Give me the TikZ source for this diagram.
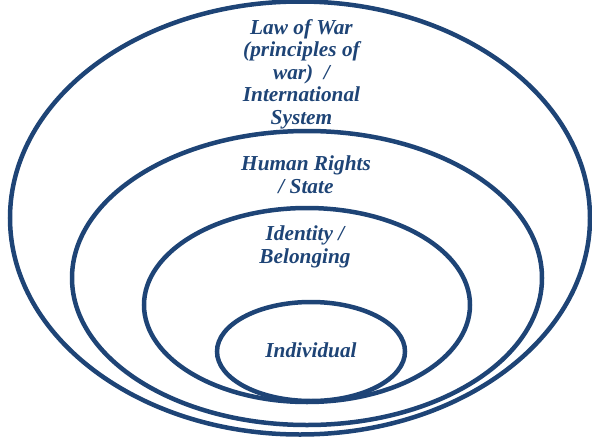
\documentclass[tikz,border=0pt]{standalone}
\usepackage{fontspec}
\setmainfont{Liberation Serif}
\definecolor{navy}{RGB}{30,68,118}
\begin{document}
\begin{tikzpicture}[x=1pt,y=-1pt,
  ring/.style={draw=navy,line width=4.5pt},
  lab/.style={text=navy,font=\fontsize{21.3}{22.5}\selectfont\bfseries\itshape,align=center,inner sep=0pt}]
\useasboundingbox (0,0) rectangle (592,442);
\draw[ring] (300,218) ellipse [x radius=290, y radius=216.5];
\draw[ring] (307,278) ellipse [x radius=235, y radius=147];
\draw[ring] (307,305) ellipse [x radius=163, y radius=97];
\draw[ring] (311,351.5) ellipse [x radius=94, y radius=49.5];
\node[lab,anchor=north] (law) at (301.5,19) {Law of War\\(principles of\\war)\ \ /\\International\\System};
\node[lab,anchor=north] (hr) at (306,156) {Human Rights\\/ State};
\node[lab,anchor=north] (id) at (305,226) {Identity /\\Belonging};
\node[lab,anchor=base] (ind) at (311,357) {Individual};
\end{tikzpicture}
\end{document}
